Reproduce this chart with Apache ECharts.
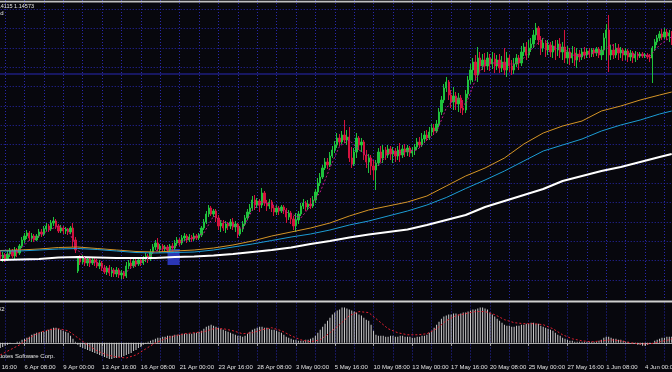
<!DOCTYPE html>
<html><head><meta charset="utf-8">
<script src="https://cdn.jsdelivr.net/npm/echarts@6/dist/echarts.min.js"></script>
<style>html,body{margin:0;padding:0;background:#07070d;}#c{width:672px;height:372px;}</style>
</head><body><div id="c"></div>
<script>
// time-axis labels, one every 16 H4 bars (the first one is cut by the left edge)
const tickLabels = ['1 Apr 16:00','6 Apr 08:00','9 Apr 00:00','13 Apr 16:00','16 Apr 08:00','21 Apr 00:00','23 Apr 16:00','28 Apr 08:00','3 May 00:00','5 May 16:00','10 May 08:00','13 May 00:00','17 May 16:00','20 May 08:00','25 May 00:00','27 May 16:00','1 Jun 08:00','4 Jun 00:00'];

const opens = [
1.1248,1.1242,1.1245,1.1241,1.1246,1.1249,1.1244,1.1250,1.1247,1.1254,
1.1260,1.1264,1.1267,1.1262,1.1264,1.1260,1.1264,1.1268,1.1266,1.1271,
1.1274,1.1271,1.1277,1.1279,1.1274,1.1269,1.1272,1.1269,1.1271,1.1268,
1.1272,1.1260,1.1229,1.1242,1.1238,1.1242,1.1237,1.1241,1.1237,1.1240,
1.1238,1.1234,1.1237,1.1232,1.1228,1.1232,1.1227,1.1230,1.1226,1.1230,
1.1225,1.1227,1.1224,1.1234,1.1237,1.1234,1.1239,1.1236,1.1240,1.1237,
1.1241,1.1244,1.1241,1.1248,1.1253,1.1257,1.1251,1.1254,1.1251,1.1253,
1.1250,1.1254,1.1252,1.1257,1.1260,1.1257,1.1262,1.1264,1.1260,1.1263,
1.1261,1.1264,1.1262,1.1265,1.1272,1.1278,1.1286,1.1292,1.1286,1.1289,
1.1282,1.1274,1.1277,1.1272,1.1276,1.1274,1.1278,1.1273,1.1276,1.1266,
1.1271,1.1276,1.1282,1.1288,1.1292,1.1300,1.1295,1.1299,1.1295,1.1307,
1.1297,1.1294,1.1298,1.1292,1.1288,1.1292,1.1289,1.1293,1.1290,1.1283,
1.1287,1.1281,1.1274,1.1280,1.1286,1.1294,1.1297,1.1293,1.1296,1.1294,
1.1300,1.1308,1.1317,1.1323,1.1332,1.1338,1.1335,1.1344,1.1350,1.1355,
1.1362,1.1358,1.1365,1.1360,1.1363,1.1342,1.1336,1.1348,1.1362,1.1355,
1.1358,1.1345,1.1338,1.1342,1.1334,1.1330,1.1337,1.1348,1.1342,1.1350,
1.1345,1.1351,1.1346,1.1349,1.1344,1.1350,1.1345,1.1351,1.1348,1.1352,
1.1347,1.1350,1.1353,1.1358,1.1355,1.1361,1.1365,1.1362,1.1368,1.1372,
1.1369,1.1376,1.1388,1.1400,1.1412,1.1418,1.1405,1.1398,1.1404,1.1396,
1.1402,1.1392,1.1390,1.1406,1.1420,1.1430,1.1438,1.1425,1.1442,1.1434,
1.1440,1.1434,1.1442,1.1436,1.1441,1.1434,1.1440,1.1432,1.1438,1.1430,
1.1442,1.1434,1.1430,1.1436,1.1442,1.1437,1.1448,1.1453,1.1445,1.1452,
1.1456,1.1465,1.1472,1.1460,1.1452,1.1457,1.1450,1.1455,1.1448,1.1454,
1.1450,1.1456,1.1448,1.1453,1.1442,1.1448,1.1442,1.1447,1.1440,1.1446,
1.1443,1.1448,1.1445,1.1449,1.1446,1.1450,1.1447,1.1451,1.1445,1.1450,
1.1462,1.1470,1.1445,1.1450,1.1445,1.1452,1.1447,1.1450,1.1445,1.1449,
1.1443,1.1447,1.1442,1.1446,1.1444,1.1446,1.1444,1.1445,1.1443,1.1442,
1.1452,1.1458,1.1462,1.1466,1.1463,1.1468,1.1464,1.1467
];
const closes = [
1.1242,1.1245,1.1241,1.1246,1.1249,1.1244,1.1250,1.1247,1.1254,1.1260,
1.1264,1.1267,1.1262,1.1264,1.1260,1.1264,1.1268,1.1266,1.1271,1.1274,
1.1271,1.1277,1.1279,1.1274,1.1269,1.1272,1.1269,1.1271,1.1268,1.1272,
1.1260,1.1250,1.1242,1.1238,1.1242,1.1237,1.1241,1.1237,1.1240,1.1238,
1.1234,1.1237,1.1232,1.1228,1.1232,1.1227,1.1230,1.1226,1.1230,1.1225,
1.1227,1.1224,1.1234,1.1237,1.1234,1.1239,1.1236,1.1240,1.1237,1.1241,
1.1244,1.1241,1.1248,1.1253,1.1257,1.1251,1.1254,1.1251,1.1253,1.1250,
1.1254,1.1252,1.1257,1.1260,1.1257,1.1262,1.1264,1.1260,1.1263,1.1261,
1.1264,1.1262,1.1265,1.1272,1.1278,1.1286,1.1292,1.1286,1.1289,1.1282,
1.1274,1.1277,1.1272,1.1276,1.1274,1.1278,1.1273,1.1276,1.1266,1.1271,
1.1276,1.1282,1.1288,1.1292,1.1300,1.1295,1.1299,1.1295,1.1307,1.1297,
1.1294,1.1298,1.1292,1.1288,1.1292,1.1289,1.1293,1.1290,1.1283,1.1287,
1.1281,1.1274,1.1280,1.1286,1.1294,1.1297,1.1293,1.1296,1.1294,1.1300,
1.1308,1.1317,1.1323,1.1332,1.1338,1.1335,1.1344,1.1350,1.1355,1.1362,
1.1358,1.1365,1.1360,1.1363,1.1342,1.1336,1.1348,1.1362,1.1355,1.1358,
1.1345,1.1338,1.1342,1.1334,1.1330,1.1337,1.1348,1.1342,1.1350,1.1345,
1.1351,1.1346,1.1349,1.1344,1.1350,1.1345,1.1351,1.1348,1.1352,1.1347,
1.1350,1.1353,1.1358,1.1355,1.1361,1.1365,1.1362,1.1368,1.1372,1.1369,
1.1376,1.1388,1.1400,1.1412,1.1418,1.1405,1.1398,1.1404,1.1396,1.1402,
1.1392,1.1390,1.1406,1.1420,1.1430,1.1438,1.1425,1.1442,1.1434,1.1440,
1.1434,1.1442,1.1436,1.1441,1.1434,1.1440,1.1432,1.1438,1.1430,1.1442,
1.1434,1.1430,1.1436,1.1442,1.1437,1.1448,1.1453,1.1445,1.1452,1.1456,
1.1465,1.1472,1.1460,1.1452,1.1457,1.1450,1.1455,1.1448,1.1454,1.1450,
1.1456,1.1448,1.1453,1.1442,1.1448,1.1442,1.1447,1.1440,1.1446,1.1443,
1.1448,1.1445,1.1449,1.1446,1.1450,1.1447,1.1451,1.1445,1.1450,1.1462,
1.1470,1.1445,1.1450,1.1445,1.1452,1.1447,1.1450,1.1445,1.1449,1.1443,
1.1447,1.1442,1.1446,1.1444,1.1446,1.1444,1.1445,1.1443,1.1442,1.1452,
1.1458,1.1462,1.1466,1.1463,1.1468,1.1464,1.1467,1.1457
];
const highs = [
1.1250,1.1248,1.1247,1.1249,1.1252,1.1251,1.1253,1.1252,1.1256,1.1263,
1.1267,1.1270,1.1269,1.1267,1.1266,1.1266,1.1271,1.1271,1.1274,1.1277,
1.1276,1.1280,1.1283,1.1281,1.1276,1.1275,1.1274,1.1273,1.1272,1.1274,
1.1277,1.1263,1.1244,1.1245,1.1245,1.1244,1.1243,1.1243,1.1243,1.1242,
1.1241,1.1240,1.1239,1.1235,1.1234,1.1235,1.1233,1.1232,1.1233,1.1232,
1.1230,1.1229,1.1238,1.1240,1.1241,1.1242,1.1242,1.1243,1.1242,1.1244,
1.1247,1.1246,1.1251,1.1256,1.1260,1.1262,1.1256,1.1256,1.1255,1.1255,
1.1256,1.1257,1.1260,1.1263,1.1262,1.1265,1.1267,1.1266,1.1266,1.1265,
1.1267,1.1266,1.1267,1.1274,1.1281,1.1289,1.1295,1.1294,1.1291,1.1291,
1.1285,1.1280,1.1280,1.1279,1.1278,1.1281,1.1282,1.1279,1.1277,1.1274,
1.1279,1.1285,1.1291,1.1296,1.1304,1.1305,1.1302,1.1301,1.1312,1.1309,
1.1300,1.1301,1.1300,1.1295,1.1295,1.1294,1.1295,1.1295,1.1292,1.1290,
1.1289,1.1284,1.1287,1.1289,1.1297,1.1301,1.1299,1.1300,1.1302,1.1304,
1.1311,1.1322,1.1327,1.1335,1.1342,1.1342,1.1348,1.1354,1.1359,1.1367,
1.1366,1.1369,1.1380,1.1370,1.1373,1.1353,1.1352,1.1367,1.1364,1.1362,
1.1360,1.1350,1.1346,1.1345,1.1340,1.1340,1.1352,1.1354,1.1355,1.1353,
1.1355,1.1354,1.1353,1.1352,1.1354,1.1357,1.1355,1.1356,1.1355,1.1354,
1.1353,1.1356,1.1362,1.1363,1.1367,1.1369,1.1370,1.1373,1.1376,1.1376,
1.1380,1.1392,1.1404,1.1416,1.1423,1.1420,1.1410,1.1413,1.1408,1.1407,
1.1405,1.1400,1.1410,1.1424,1.1436,1.1442,1.1445,1.1453,1.1448,1.1446,
1.1447,1.1448,1.1446,1.1448,1.1447,1.1445,1.1446,1.1444,1.1452,1.1448,
1.1445,1.1440,1.1442,1.1446,1.1445,1.1454,1.1457,1.1458,1.1460,1.1462,
1.1470,1.1477,1.1474,1.1464,1.1462,1.1460,1.1460,1.1458,1.1459,1.1460,
1.1460,1.1462,1.1458,1.1470,1.1454,1.1452,1.1454,1.1453,1.1452,1.1450,
1.1452,1.1453,1.1452,1.1452,1.1452,1.1452,1.1453,1.1453,1.1454,1.1467,
1.1476,1.1485,1.1455,1.1456,1.1457,1.1456,1.1453,1.1452,1.1452,1.1451,
1.1450,1.1449,1.1449,1.1448,1.1448,1.1448,1.1447,1.1447,1.1446,1.1454,
1.1461,1.1465,1.1469,1.1471,1.1472,1.1471,1.1470,1.1469
];
const lows = [
1.1239,1.1238,1.1238,1.1239,1.1243,1.1242,1.1241,1.1243,1.1245,1.1252,
1.1257,1.1261,1.1259,1.1258,1.1258,1.1259,1.1262,1.1263,1.1264,1.1269,
1.1268,1.1269,1.1274,1.1271,1.1267,1.1267,1.1266,1.1266,1.1265,1.1266,
1.1253,1.1247,1.1227,1.1235,1.1236,1.1234,1.1234,1.1233,1.1235,1.1234,
1.1232,1.1231,1.1229,1.1226,1.1225,1.1224,1.1223,1.1223,1.1223,1.1222,
1.1221,1.1221,1.1222,1.1231,1.1232,1.1232,1.1233,1.1234,1.1234,1.1235,
1.1238,1.1237,1.1239,1.1246,1.1250,1.1249,1.1247,1.1248,1.1248,1.1247,
1.1248,1.1249,1.1250,1.1254,1.1254,1.1255,1.1259,1.1257,1.1258,1.1258,
1.1259,1.1260,1.1260,1.1263,1.1270,1.1276,1.1283,1.1284,1.1283,1.1278,
1.1270,1.1268,1.1269,1.1267,1.1270,1.1271,1.1270,1.1268,1.1262,1.1264,
1.1268,1.1274,1.1280,1.1286,1.1289,1.1290,1.1292,1.1288,1.1292,1.1294,
1.1289,1.1291,1.1288,1.1284,1.1285,1.1285,1.1287,1.1286,1.1277,1.1280,
1.1276,1.1270,1.1268,1.1276,1.1284,1.1291,1.1289,1.1290,1.1291,1.1292,
1.1297,1.1305,1.1314,1.1321,1.1330,1.1331,1.1333,1.1342,1.1347,1.1352,
1.1354,1.1356,1.1357,1.1355,1.1338,1.1332,1.1334,1.1342,1.1350,1.1348,
1.1340,1.1332,1.1327,1.1325,1.1320,1.1310,1.1334,1.1338,1.1337,1.1340,
1.1342,1.1340,1.1337,1.1338,1.1340,1.1338,1.1342,1.1343,1.1344,1.1343,
1.1343,1.1345,1.1350,1.1352,1.1353,1.1357,1.1359,1.1360,1.1364,1.1366,
1.1367,1.1373,1.1385,1.1397,1.1408,1.1400,1.1392,1.1390,1.1390,1.1388,
1.1387,1.1385,1.1387,1.1402,1.1416,1.1418,1.1420,1.1418,1.1428,1.1430,
1.1428,1.1430,1.1429,1.1431,1.1427,1.1430,1.1427,1.1428,1.1425,1.1423,
1.1428,1.1425,1.1426,1.1433,1.1430,1.1434,1.1444,1.1440,1.1442,1.1448,
1.1452,1.1460,1.1455,1.1445,1.1448,1.1443,1.1445,1.1443,1.1442,1.1440,
1.1444,1.1442,1.1440,1.1437,1.1436,1.1435,1.1437,1.1434,1.1432,1.1438,
1.1440,1.1441,1.1442,1.1442,1.1443,1.1443,1.1444,1.1442,1.1440,1.1445,
1.1440,1.1428,1.1440,1.1441,1.1442,1.1440,1.1442,1.1439,1.1440,1.1438,
1.1439,1.1437,1.1438,1.1440,1.1442,1.1442,1.1442,1.1441,1.1438,1.1417,
1.1449,1.1455,1.1459,1.1460,1.1461,1.1460,1.1458,1.1455
];

// moving averages, read every 8 bars
const maBars = [0,8,16,24,32,40,48,56,64,72,80,88,96,104,112,120,128,136,144,152,160,168,176,184,192,200,208,216,224,232,240,248,256,264,272,277];
const maOrange = [1.12495,1.1250,1.1251,1.12525,1.1253,1.12515,1.1250,1.12485,1.1248,1.1249,1.1250,1.1252,1.1255,1.1259,1.1264,1.1268,1.1272,1.1277,1.1284,1.1290,1.1294,1.1298,1.1304,1.1314,1.1324,1.1332,1.1342,1.1356,1.1367,1.1374,1.1379,1.1389,1.1394,1.1400,1.1405,1.1408];
const maCyan = [1.1249,1.1249,1.1250,1.1251,1.12515,1.12505,1.1249,1.12475,1.1247,1.12475,1.1248,1.1250,1.1253,1.1256,1.12595,1.1263,1.1266,1.1270,1.1275,1.1279,1.1284,1.1289,1.1295,1.13025,1.13115,1.1320,1.1329,1.1339,1.1349,1.1355,1.1361,1.1369,1.1375,1.1380,1.1386,1.1389];
const maWhite = [1.1240,1.12405,1.1241,1.12425,1.1243,1.12425,1.1242,1.1242,1.1242,1.1243,1.12435,1.12445,1.1246,1.1248,1.1250,1.12525,1.1256,1.1259,1.12625,1.12655,1.1268,1.12705,1.1275,1.1280,1.1285,1.1293,1.1299,1.1305,1.1311,1.1319,1.1324,1.1329,1.1333,1.1338,1.1343,1.1346];

// fast average and MACD signal, read every 4 bars
const fastBars = [0,4,8,12,16,20,24,28,32,36,40,44,48,52,56,60,64,68,72,76,80,84,88,92,96,100,104,108,112,116,120,124,128,132,136,140,144,148,152,156,160,164,168,172,176,180,184,188,192,196,200,204,208,212,216,220,224,228,232,236,240,244,248,252,256,260,264,268,272,276,277];
const maMagenta = [1.1244,1.1246,1.1250,1.1260,1.1264,1.1270,1.1274,1.1270,1.1250,1.1239,1.1237,1.1231,1.1228,1.1228,1.1236,1.1240,1.1249,1.1252,1.1253,1.1260,1.1262,1.1267,1.1284,1.1278,1.1275,1.1271,1.1290,1.1298,1.1296,1.1290,1.1286,1.1282,1.1294,1.1308,1.1332,1.1354,1.1360,1.1350,1.1344,1.1334,1.1347,1.1347,1.1349,1.1350,1.1360,1.1368,1.1392,1.1403,1.1395,1.1420,1.1437,1.1437,1.1436,1.1436,1.1442,1.1453,1.1462,1.1452,1.1452,1.1445,1.1444,1.1447,1.1448,1.1456,1.1448,1.1446,1.1445,1.1444,1.1455,1.1462,1.1463];
const macdSignal = [-0.0012,-0.0007,-0.0002,0.0005,0.0010,0.0013,0.0014,0.0012,0.0005,-0.0002,-0.0008,-0.0012,-0.0014,-0.0015,-0.0012,-0.0006,0.0000,0.0004,0.0007,0.0009,0.0010,0.0011,0.0014,0.0014,0.0012,0.0009,0.0010,0.0013,0.0015,0.0012,0.0007,0.0003,0.0001,0.0003,0.0010,0.0018,0.0027,0.0031,0.0030,0.0022,0.0014,0.0010,0.0008,0.0008,0.0009,0.0014,0.0022,0.0027,0.0029,0.0031,0.0031,0.0028,0.0023,0.0020,0.0019,0.0019,0.0018,0.0014,0.0008,0.0004,0.0002,0.0001,0.0002,0.0003,0.0002,0.0000,-0.0001,-0.0001,0.0001,0.0003,0.0004];

const macdHist = [
-0.0005,-0.0004,-0.0003,-0.0002,-0.0001,0.0000,0.0000,0.0001,0.0001,0.0003,
0.0004,0.0005,0.0006,0.0008,0.0009,0.0010,0.0010,0.0011,0.0011,0.0012,
0.0013,0.0014,0.0015,0.0015,0.0014,0.0013,0.0012,0.0011,0.0010,0.0007,
0.0004,0.0001,-0.0002,-0.0004,-0.0005,-0.0006,-0.0007,-0.0008,-0.0009,-0.0010,
-0.0011,-0.0012,-0.0013,-0.0014,-0.0015,-0.0016,-0.0016,-0.0015,-0.0015,-0.0014,
-0.0014,-0.0013,-0.0012,-0.0011,-0.0010,-0.0008,-0.0007,-0.0005,-0.0004,-0.0002,
-0.0001,0.0001,0.0002,0.0003,0.0004,0.0005,0.0005,0.0006,0.0006,0.0007,
0.0007,0.0007,0.0008,0.0008,0.0008,0.0009,0.0009,0.0009,0.0009,0.0009,
0.0010,0.0010,0.0011,0.0012,0.0014,0.0016,0.0017,0.0018,0.0017,0.0016,
0.0015,0.0014,0.0013,0.0012,0.0011,0.0010,0.0009,0.0008,0.0007,0.0007,
0.0006,0.0007,0.0009,0.0011,0.0013,0.0014,0.0015,0.0016,0.0016,0.0015,
0.0015,0.0014,0.0013,0.0013,0.0012,0.0011,0.0010,0.0008,0.0006,0.0005,
0.0004,0.0003,0.0003,0.0002,0.0002,0.0002,0.0003,0.0003,0.0004,0.0005,
0.0007,0.0010,0.0013,0.0016,0.0019,0.0022,0.0025,0.0028,0.0030,0.0032,
0.0033,0.0035,0.0035,0.0034,0.0033,0.0032,0.0031,0.0030,0.0028,0.0027,
0.0025,0.0023,0.0022,0.0018,0.0012,0.0008,0.0007,0.0007,0.0007,0.0006,
0.0006,0.0007,0.0007,0.0006,0.0006,0.0007,0.0007,0.0006,0.0006,0.0006,
0.0005,0.0005,0.0006,0.0006,0.0007,0.0007,0.0008,0.0010,0.0012,0.0015,
0.0018,0.0021,0.0024,0.0026,0.0027,0.0028,0.0028,0.0029,0.0029,0.0028,
0.0029,0.0030,0.0030,0.0031,0.0032,0.0033,0.0033,0.0034,0.0035,0.0035,
0.0034,0.0033,0.0030,0.0028,0.0026,0.0024,0.0022,0.0020,0.0018,0.0017,
0.0017,0.0016,0.0016,0.0017,0.0017,0.0018,0.0018,0.0019,0.0019,0.0020,
0.0020,0.0019,0.0019,0.0017,0.0016,0.0015,0.0014,0.0013,0.0012,0.0010,
0.0008,0.0007,0.0005,0.0004,0.0003,0.0002,0.0002,0.0001,0.0001,0.0001,
0.0001,0.0001,0.0001,0.0001,0.0001,0.0001,0.0001,0.0002,0.0003,0.0005,
0.0006,0.0006,0.0005,0.0004,0.0004,0.0003,0.0003,0.0002,0.0001,0.0001,
0.0000,-0.0001,-0.0001,-0.0002,-0.0002,-0.0003,-0.0003,-0.0002,-0.0001,0.0000,
0.0002,0.0003,0.0004,0.0005,0.0005,0.0006,0.0006,0.0006
];

// horizontal level and highlighted box (data coordinates)
const levelPrice = 1.1426;
const boxBars = [69, 74];
const boxPrices = [1.1251, 1.1235];

// ---- build ----
const leadBars = 6;           // bars left of the visible window (up to the cut first label)
const barsPerLabel = 16;
const barsPerGrid = 8;
const nBars = opens.length;
const lastIdx = leadBars + nBars - 1;
const categories = Array.from({length: leadBars + nBars}, (_, k) => String(k));
const pad = arr => Array(leadBars).fill('-').concat(arr);
const candleData = pad(opens.map((o, k) => [o, closes[k], lows[k], highs[k]]));
const pairs = (xs, ys) => xs.map((b, k) => [leadBars + b, ys[k]]);

const step = 2.424;
const gridLeft = 5.1 - barsPerGrid * step;
const gridWidth = lastIdx * step;
const gridColor = '#2828ac';
const font = '"Liberation Sans", Arial, sans-serif';
const upColor = '#1fc23c';
const downColor = '#d4123e';

const vSplit = {show: true, interval: i => i % barsPerGrid === 0,
  lineStyle: {color: gridColor, width: 1, type: [1, 2]}};

const chart = echarts.init(document.getElementById('c'), null, {renderer: 'canvas'});
chart.setOption({
  animation: false,
  backgroundColor: '#07070d',
  grid: [
    {left: gridLeft, width: gridWidth, top: 0, height: 299.4, containLabel: false, outerBoundsMode: 'none'},
    {left: gridLeft, width: gridWidth, top: 302.5, height: 58.5, containLabel: false, outerBoundsMode: 'none'}
  ],
  xAxis: [
    {type: 'category', gridIndex: 0, data: categories, boundaryGap: false,
     axisLine: {show: false}, axisTick: {show: false}, axisLabel: {show: false},
     splitLine: vSplit},
    {type: 'category', gridIndex: 1, data: categories, boundaryGap: false,
     axisLine: {show: true, lineStyle: {color: '#a8a8a8', width: 1}},
     axisTick: {show: true, interval: i => i % barsPerLabel === 0, length: 3, lineStyle: {color: '#a8a8a8'}},
     axisLabel: {show: true, interval: i => i % barsPerLabel === 0, align: 'left', margin: 3,
       fontSize: 6, fontFamily: font, color: '#e0e0e0',
       formatter: (v, i) => tickLabels[Math.round(i / barsPerLabel)] || ''},
     splitLine: vSplit}
  ],
  yAxis: [
    {type: 'value', gridIndex: 0, min: 1.12006, max: 1.15, interval: 0.001934,
     axisLine: {show: false}, axisTick: {show: false}, axisLabel: {show: false},
     splitLine: {show: true, showMinLine: false, showMaxLine: false,
       lineStyle: {color: gridColor, width: 1, type: [1, 2]}}},
    {type: 'value', gridIndex: 1, min: -0.0018, max: 0.0040,
     axisLine: {show: false}, axisTick: {show: false}, axisLabel: {show: false},
     splitLine: {show: false}}
  ],
  series: [
    {type: 'line', xAxisIndex: 0, yAxisIndex: 0, data: [[0, levelPrice], [lastIdx, levelPrice]], symbol: 'none',
     lineStyle: {color: '#2828b4', width: 1}, z: 1,
     markArea: {silent: true, itemStyle: {color: '#2b36b4'},
       data: [[{coord: [leadBars + boxBars[0], boxPrices[0]]}, {coord: [leadBars + boxBars[1], boxPrices[1]]}]]}
    },
    {type: 'candlestick', xAxisIndex: 0, yAxisIndex: 0, data: candleData, barWidth: 1.8, z: 2,
     itemStyle: {color: upColor, color0: downColor, borderColor: upColor, borderColor0: downColor, borderWidth: 1}},
    {type: 'line', xAxisIndex: 0, yAxisIndex: 0, data: pairs(maBars, maOrange), symbol: 'none',
     lineStyle: {color: '#d49426', width: 1}, z: 3},
    {type: 'line', xAxisIndex: 0, yAxisIndex: 0, data: pairs(maBars, maCyan), symbol: 'none',
     lineStyle: {color: '#1c9cd4', width: 1}, z: 3},
    {type: 'line', xAxisIndex: 0, yAxisIndex: 0, data: pairs(maBars, maWhite), symbol: 'none',
     lineStyle: {color: '#ffffff', width: 2}, z: 3},
    {type: 'line', xAxisIndex: 0, yAxisIndex: 0, data: pairs(fastBars, maMagenta), symbol: 'none',
     lineStyle: {color: '#c0188a', width: 1, type: [2, 2]}, z: 4},
    {type: 'bar', xAxisIndex: 1, yAxisIndex: 1, data: pad(macdHist), barWidth: 1,
     itemStyle: {color: '#cccccc'}},
    {type: 'line', xAxisIndex: 1, yAxisIndex: 1, data: pairs(fastBars, macdSignal), symbol: 'none',
     lineStyle: {color: '#e02030', width: 1, type: [2, 2]}, z: 4}
  ],
  graphic: [
    {type: 'rect', z: 100, shape: {x: 0, y: 0.8, width: 672, height: 1.6}, style: {fill: '#c0c0c0'}},
    {type: 'rect', z: 100, shape: {x: 0, y: 300.6, width: 672, height: 2}, style: {fill: '#cfcfcf'}},
    {type: 'text', z: 100, x: 34, y: 6, style: {text: '1.14115 1.14573', fill: '#e4e4e4', font: '5.5px ' + font, align: 'right', verticalAlign: 'middle'}},
    {type: 'text', z: 100, x: 3.5, y: 13, style: {text: 'Trend', fill: '#e4e4e4', font: '6px ' + font, align: 'right', verticalAlign: 'middle'}},
    {type: 'text', z: 100, x: 4.5, y: 309, style: {text: 'MACD(12,26,9) 0.0042', fill: '#e4e4e4', font: '6px ' + font, align: 'right', verticalAlign: 'middle'}},
    {type: 'text', z: 100, x: 55, y: 356.5, style: {text: '© 2001-2010 MetaQuotes Software Corp.', fill: '#e4e4e4', font: '6px ' + font, align: 'right', verticalAlign: 'middle'}}
  ]
});
</script>
</body></html>
